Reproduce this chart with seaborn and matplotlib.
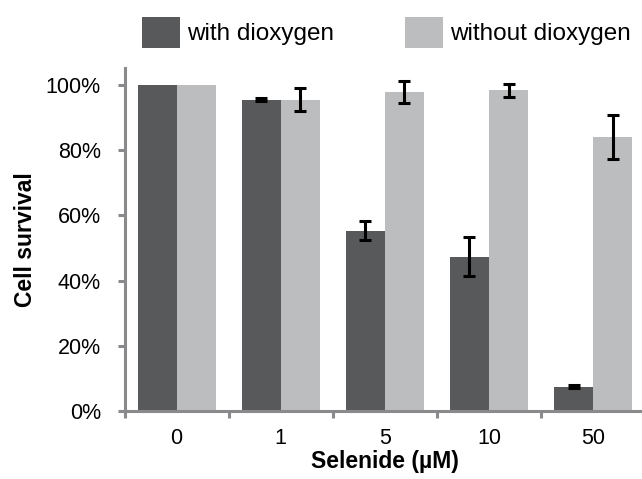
import numpy as np
import pandas as pd
import matplotlib
matplotlib.use("Agg")
import matplotlib.pyplot as plt
import seaborn as sns
from matplotlib.ticker import PercentFormatter, FixedLocator

# Data
selenide = ["0", "1", "5", "10", "50"]
with_o2 = [100, 95.5, 55.3, 47.3, 7.5]
with_o2_err = [0, 0.4, 3.0, 6.0, 0.5]
without_o2 = [100, 95.5, 97.8, 98.4, 84.1]
without_o2_err = [0, 3.5, 3.4, 2.0, 6.8]

df = pd.DataFrame({
    "selenide": selenide * 2,
    "survival": with_o2 + without_o2,
    "err": with_o2_err + without_o2_err,
    "condition": ["with dioxygen"] * 5 + ["without dioxygen"] * 5,
})

sns.set_style("white")
plt.rcParams["font.family"] = ["Liberation Sans", "DejaVu Sans"]
plt.rcParams["text.color"] = "black"
plt.rcParams["axes.labelcolor"] = "black"
plt.rcParams["xtick.labelcolor"] = "black"
plt.rcParams["ytick.labelcolor"] = "black"

fig = plt.figure(figsize=(6.42, 4.79), dpi=100)
ax = fig.add_axes([0.194, 0.142, 0.811, 0.716])

colors = ["#58595b", "#bcbdbf"]
sns.barplot(data=df, x="selenide", y="survival", hue="condition",
            order=selenide, palette=colors, width=0.75, gap=0,
            errorbar=None, saturation=1, linewidth=0, ax=ax)

# error bars on each bar
for cont, cond in zip(ax.containers, ["with dioxygen", "without dioxygen"]):
    sub = df[df["condition"] == cond]
    xs = [b.get_x() + b.get_width() / 2 for b in cont]
    for x, y, e in zip(xs, sub["survival"], sub["err"]):
        if e > 0:
            ax.errorbar(x, y, yerr=e, fmt="none", ecolor="black",
                        elinewidth=2.2, capsize=4.5, capthick=2.2)

ax.set_xlim(-0.5, 4.5)
ax.set_ylim(0, 105.2)
ax.set_yticks([0, 20, 40, 60, 80, 100])
ax.yaxis.set_major_formatter(PercentFormatter(decimals=0))

spine_c = "#8a8a8c"
for s in ["top", "right"]:
    ax.spines[s].set_visible(False)
for s in ["left", "bottom"]:
    ax.spines[s].set_color(spine_c)
    ax.spines[s].set_linewidth(2.2)

ax.xaxis.set_minor_locator(FixedLocator([-0.5, 0.5, 1.5, 2.5, 3.5, 4.5]))
ax.tick_params(axis="x", which="major", length=0, labelsize=15.5, pad=12,
               labelcolor="black")
ax.tick_params(axis="x", which="minor", length=5, width=2.2, color=spine_c,
               direction="out", bottom=True)
ax.tick_params(axis="y", length=5, width=2.2, color=spine_c, direction="out",
               left=True, labelsize=15.5, pad=12, labelcolor="black")

ax.set_xlabel("Selenide (µM)", fontsize=16.5, fontweight="bold", labelpad=1,
              color="black")
ax.set_ylabel("Cell survival", fontsize=16.5, fontweight="bold", labelpad=6,
              color="black")

leg = ax.legend(loc="center", bbox_to_anchor=(0.503, 1.1035), ncol=2,
                frameon=False, fontsize=17.5, handlelength=1.56,
                handleheight=1.6, columnspacing=2.9, handletextpad=0.3,
                borderaxespad=0)
for t in leg.get_texts():
    t.set_color("black")

fig.savefig("out.png", dpi=100)
